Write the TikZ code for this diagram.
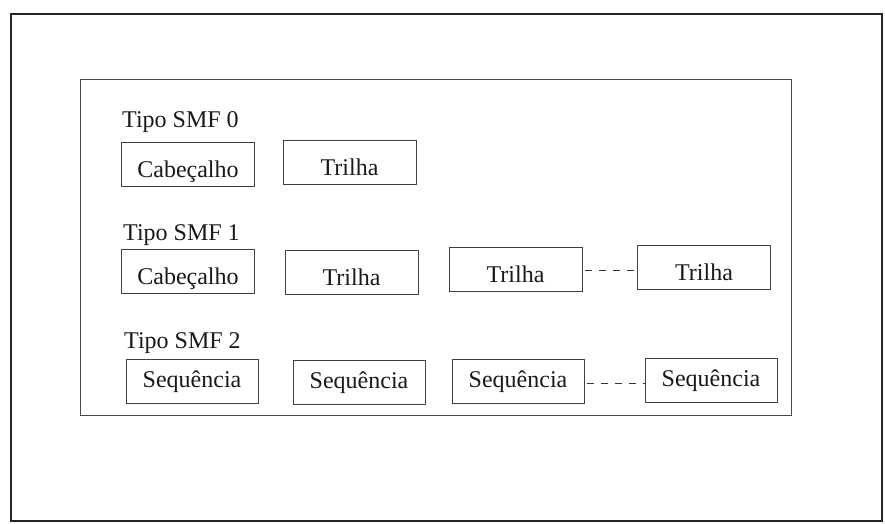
\documentclass[tikz,border=0pt]{standalone}
\usepackage{fontspec}
\setmainfont{Liberation Serif}
\begin{document}
\begin{tikzpicture}[x=1pt,y=-1pt,
  frame/.style={draw=black!85,line width=2.8pt},
  panel/.style={draw=black!70,line width=0.9pt},
  box/.style={draw=black!75,line width=0.9pt,inner sep=0pt,minimum height=44pt,
    minimum width=133pt,font=\fontsize{24}{26}\selectfont,text=black!90},
  hbox/.style={box,text height=26pt,text depth=0pt},
  sbox/.style={box,text height=17pt,text depth=5pt},
  title/.style={anchor=base west,inner sep=0pt,font=\fontsize{24}{26}\selectfont,text=black!90},
  gap/.style={draw=black!80,line width=0.9pt,dash pattern=on 7pt off 7pt,dash phase=-3pt}]
\useasboundingbox (0,0) rectangle (885,524);
% outer frame and inner panel
\draw[frame] (11,14) rectangle (882,521);
\draw[panel] (80,79) rectangle (791,415);
% SMF type 0
\node[title] (t0) at (122,128) {Tipo SMF 0};
\node[hbox] (h0) at (188,164) {Cabeçalho};
\node[hbox] (r0) at (349.5,162.5) {Trilha};
% SMF type 1
\node[title] (t1) at (123,240) {Tipo SMF 1};
\node[hbox] (h1) at (188,271) {Cabeçalho};
\node[hbox] (r1a) at (351.5,272) {Trilha};
\node[hbox] (r1b) at (515.5,269.5) {Trilha};
\node[hbox] (r1c) at (704,267) {Trilha};
\draw[gap] ([yshift=-1pt]r1b.east) -- ([yshift=-1pt]r1b.east -| r1c.west);
% SMF type 2
\node[title] (t2) at (124,348) {Tipo SMF 2};
\node[sbox,minimum width=132pt] (s1) at (192,381.5) {Sequência};
\node[sbox,minimum width=132pt] (s2) at (359,382.5) {Sequência};
\node[sbox,minimum width=132pt] (s3) at (518,381) {Sequência};
\node[sbox,minimum width=132pt] (s4) at (711,380) {Sequência};
\draw[gap] ([yshift=-2pt]s3.east) -- ([yshift=-2pt]s3.east -| s4.west);
\end{tikzpicture}
\end{document}
